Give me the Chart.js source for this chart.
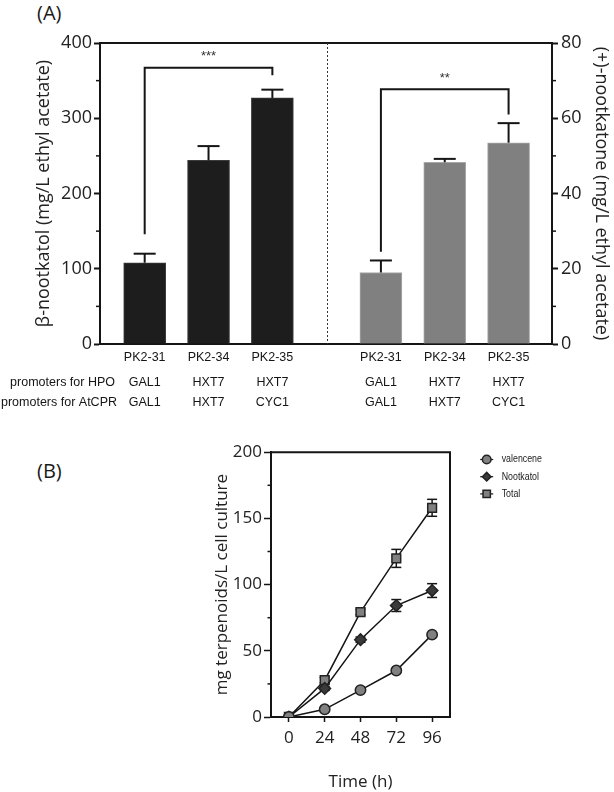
<!DOCTYPE html>
<html><head><meta charset="utf-8">
<script src="https://cdn.jsdelivr.net/npm/chart.js@4.4.1/dist/chart.umd.min.js"></script>
<style>
html,body{margin:0;padding:0;background:#fff;}
body{width:614px;height:792px;position:relative;overflow:hidden;font-family:'Open Sans',sans-serif;}
#wa{position:absolute;left:0;top:0;width:614px;height:425px;}
#wb{position:absolute;left:0;top:440px;width:614px;height:352px;}
.panel{position:absolute;font-size:20px;color:#1a1a1a;line-height:1;font-family:'Open Sans',sans-serif;}
</style></head><body>
<div class="panel" style="left:37px;top:3px">(A)</div>
<div class="panel" style="left:37px;top:461px">(B)</div>
<div id="wa"><canvas id="ca"></canvas></div>
<div id="wb"><canvas id="cb"></canvas></div>
<script>
// ---------- Panel A data ----------
const strains = ['PK2-31', 'PK2-34', 'PK2-35', 'PK2-31', 'PK2-34', 'PK2-35'];
const hpoPromoters = ['GAL1', 'HXT7', 'HXT7', 'GAL1', 'HXT7', 'HXT7'];
const cprPromoters = ['GAL1', 'HXT7', 'CYC1', 'GAL1', 'HXT7', 'CYC1'];
const nootkatolMean = [108, 244, 327];
const nootkatolErr = [12, 19, 11];
const nootkatoneMean = [19, 48.3, 53.5];
const nootkatoneErr = [3.2, 0.9, 5.2];
const leftTicks = [0, 100, 200, 300, 400];
const rightTicks = [0, 20, 40, 60, 80];
// significance brackets: bar indices within group, bracket level, drop ends, label
const sigLeft = {from: 0, to: 2, level: 367, endFrom: 146, endTo: 357, label: '***'};
const sigRight = {from: 0, to: 2, level: 67.7, endFrom: 24.5, endTo: 61, label: '**'};

// ---------- Panel B data ----------
const timeH = [0, 24, 48, 72, 96];
const valencene = [0, 5.8, 20.3, 35.1, 62.2];
const valenceneErr = [0, 0.8, 1, 1.5, 1.5];
const nootkatol = [0, 21.6, 58.4, 84.2, 95.5];
const nootkatolTErr = [0, 1.5, 2, 4.5, 5.2];
const total = [0, 27.8, 79.2, 119.8, 158];
const totalErr = [0, 2, 2, 6.8, 6.4];
const bTicks = [0, 50, 100, 150, 200];

// ---------- layout helpers ----------
const GAP = 1.7; // distance between the two bar groups (in bar slots)
const xLeft = nootkatolMean.map((v, i) => i + 1);
const xRight = nootkatoneMean.map((v, i) => xLeft[xLeft.length - 1] + GAP + i);
const allX = xLeft.concat(xRight);
const dividerX = (xLeft[xLeft.length - 1] + xRight[0]) / 2;

const INK = '#151515';
const NUM = "'Open Sans', sans-serif";
const ARIAL = "'Liberation Sans', Arial, sans-serif";

function ln(ctx, x1, y1, x2, y2) { ctx.beginPath(); ctx.moveTo(x1, y1); ctx.lineTo(x2, y2); ctx.stroke(); }

function minorTicks(ctx, scale, ticks, x0, dir, len) {
  for (let i = 0; i < ticks.length - 1; i++) {
    const v = (ticks[i] + ticks[i + 1]) / 2;
    const p = scale.getPixelForValue(v);
    ln(ctx, x0, p, x0 + dir * len, p);
  }
}

const panelAPlugin = {
  id: 'panelA',
  afterDraw(chart) {
    const ctx = chart.ctx, ca = chart.chartArea;
    const x = chart.scales.x, y = chart.scales.y, y2 = chart.scales.y2;
    ctx.save();
    ctx.strokeStyle = INK; ctx.lineWidth = 2;
    ln(ctx, ca.left - 1, ca.top, ca.right + 1, ca.top);
    // minor ticks
    ctx.lineWidth = 1.5;
    minorTicks(ctx, y, leftTicks, ca.left, -1, 4);
    minorTicks(ctx, y2, rightTicks, ca.right, 1, 4);
    // divider
    ctx.lineWidth = 1; ctx.strokeStyle = '#333'; ctx.setLineDash([2, 2]);
    const dx = Math.round(x.getPixelForValue(dividerX)) + 0.5;
    ln(ctx, dx, ca.top, dx, ca.bottom);
    ctx.setLineDash([]);
    // error bars
    ctx.strokeStyle = INK; ctx.lineWidth = 2;
    const groups = [[xLeft, nootkatolMean, nootkatolErr, y], [xRight, nootkatoneMean, nootkatoneErr, y2]];
    groups.forEach(([xs, m, e, sc]) => {
      xs.forEach((xv, i) => {
        const px = x.getPixelForValue(xv);
        const pb = sc.getPixelForValue(m[i]);
        const pt = sc.getPixelForValue(m[i] + e[i]);
        ln(ctx, px, pb, px, pt);
        ln(ctx, px - 11, pt, px + 11, pt);
      });
    });
    // brackets
    [[sigLeft, xLeft, y], [sigRight, xRight, y2]].forEach(([s, xs, sc]) => {
      const x1 = x.getPixelForValue(xs[s.from]), x2 = x.getPixelForValue(xs[s.to]);
      const yl = sc.getPixelForValue(s.level);
      ctx.beginPath();
      ctx.moveTo(x1, sc.getPixelForValue(s.endFrom));
      ctx.lineTo(x1, yl); ctx.lineTo(x2, yl);
      ctx.lineTo(x2, sc.getPixelForValue(s.endTo));
      ctx.stroke();
      ctx.fillStyle = '#333';
      ctx.font = '13px ' + ARIAL;
      ctx.textAlign = 'center'; ctx.textBaseline = 'alphabetic';
      ctx.fillText(s.label, (x1 + x2) / 2, yl - 7.5);
    });
    // promoter rows
    ctx.fillStyle = INK;
    ctx.font = '12.5px ' + ARIAL;
    ctx.textBaseline = 'middle';
    const r1 = ca.bottom + 39, r2 = ca.bottom + 59;
    ctx.textAlign = 'right';
    ctx.fillText('promoters for HPO', 115, r1);
    ctx.fillText('promoters for AtCPR', 117, r2);
    ctx.textAlign = 'center';
    allX.forEach((xv, i) => {
      const px = x.getPixelForValue(xv);
      ctx.fillText(hpoPromoters[i], px, r1);
      ctx.fillText(cprPromoters[i], px, r2);
    });
    ctx.restore();
  }
};

new Chart(document.getElementById('ca'), {
  type: 'bar',
  data: {
    datasets: [
      {label: 'β-nootkatol', data: nootkatolMean.map((v, i) => ({x: xLeft[i], y: v})), yAxisID: 'y',
        backgroundColor: '#1d1d1d', borderColor: '#3c3c3c', borderWidth: 1, barThickness: 42, grouped: false},
      {label: '(+)-nootkatone', data: nootkatoneMean.map((v, i) => ({x: xRight[i], y: v})), yAxisID: 'y2',
        backgroundColor: '#808080', borderColor: '#a8a8a8', borderWidth: 1, barThickness: 42, grouped: false}
    ]
  },
  options: {
    responsive: true, maintainAspectRatio: false, animation: false,
    layout: {padding: {top: 43, left: 0, right: 0, bottom: 0}},
    plugins: {legend: {display: false}, tooltip: {enabled: false}},
    scales: {
      x: {type: 'linear', min: 0.3, max: 7.38, offset: false,
        grid: {display: false, drawTicks: false},
        border: {display: true, color: INK, width: 2},
        afterBuildTicks: s => { s.ticks = allX.map(v => ({value: v})); },
        afterFit: s => { s.height = 81; },
        ticks: {autoSkip: false, maxRotation: 0, padding: 6, color: INK,
          font: {family: ARIAL, size: 12.5}, callback: (v, i) => strains[i]}},
      y: {type: 'linear', position: 'left', min: 0, max: 400,
        afterBuildTicks: s => { s.ticks = leftTicks.map(v => ({value: v})); },
        afterFit: s => { s.width = 100; },
        grid: {drawOnChartArea: false, tickLength: 6, tickColor: INK, tickWidth: 2},
        border: {color: INK, width: 2},
        ticks: {padding: 2, color: '#222', font: {family: NUM, size: 18}},
        title: {display: true, text: 'β-nootkatol (mg/L ethyl acetate)', color: '#222',
          font: {family: NUM, size: 18}, padding: {top: 33, bottom: 0}}},
      y2: {type: 'linear', position: 'right', min: 0, max: 80,
        afterBuildTicks: s => { s.ticks = rightTicks.map(v => ({value: v})); },
        afterFit: s => { s.width = 62; },
        grid: {drawOnChartArea: false, tickLength: 6, tickColor: INK, tickWidth: 2},
        border: {color: INK, width: 2},
        ticks: {padding: 3, color: '#222', font: {family: NUM, size: 18}},
        title: {display: true, text: '(+)-nootkatone (mg/L ethyl acetate)', color: '#222',
          font: {family: NUM, size: 18}, padding: {top: 2, bottom: 0}}}
    }
  },
  plugins: [panelAPlugin]
});

// ---------- Panel B ----------
const errSets = [valenceneErr, nootkatolTErr, totalErr];

function drawMarker(ctx, ds, x, y, r) {
  ctx.fillStyle = ds.pointBackgroundColor;
  ctx.strokeStyle = ds.pointBorderColor;
  ctx.lineWidth = ds.pointBorderWidth;
  if (Chart.helpers && Chart.helpers.drawPoint) {
    Chart.helpers.drawPoint(ctx, {pointStyle: ds.pointStyle, radius: r, rotation: 0, borderWidth: ds.pointBorderWidth}, x, y);
  }
}

const panelBPlugin = {
  id: 'panelB',
  beforeDatasetsDraw(chart) {
    const ctx = chart.ctx, x = chart.scales.x, y = chart.scales.y;
    ctx.save();
    ctx.strokeStyle = INK; ctx.lineWidth = 1.5;
    chart.data.datasets.forEach((ds, di) => {
      const e = errSets[di];
      ds.data.forEach((pt, i) => {
        if (!e[i]) return;
        const px = x.getPixelForValue(pt.x);
        const p1 = y.getPixelForValue(pt.y + e[i]), p2 = y.getPixelForValue(pt.y - e[i]);
        ln(ctx, px, p1, px, p2);
        ln(ctx, px - 5, p1, px + 5, p1);
        ln(ctx, px - 5, p2, px + 5, p2);
      });
    });
    ctx.restore();
  },
  afterDraw(chart) {
    const ctx = chart.ctx, ca = chart.chartArea, y = chart.scales.y;
    ctx.save();
    ctx.strokeStyle = INK; ctx.lineWidth = 2;
    ctx.beginPath();
    ctx.moveTo(ca.left - 1, ca.top); ctx.lineTo(ca.right, ca.top); ctx.lineTo(ca.right, ca.bottom + 1);
    ctx.stroke();
    ctx.lineWidth = 1.5;
    minorTicks(ctx, y, bTicks, ca.left, -1, 3.5);
    // legend
    ctx.font = '10.5px ' + ARIAL;
    ctx.textBaseline = 'middle'; ctx.textAlign = 'left';
    chart.data.datasets.forEach((ds, i) => {
      const ly = ca.top + 7.3 + i * 17.2;
      const lx = ca.right + 36.7;
      ctx.strokeStyle = INK; ctx.lineWidth = 1.2;
      ln(ctx, lx - 6.5, ly, lx + 6.5, ly);
      drawMarker(ctx, ds, lx, ly, ds.pointStyle === 'rect' ? 5.2 : 4.3);
      ctx.fillStyle = '#1a1a1a';
      const w = ctx.measureText(ds.label).width;
      ctx.fillText(ds.label, ca.right + 51.7, ly, w * 0.84);
    });
    ctx.restore();
  }
};

function series(label, vals, style, r, fill) {
  return {label: label, data: timeH.map((t, i) => ({x: t, y: vals[i]})),
    borderColor: INK, borderWidth: 1.5, fill: false, tension: 0,
    pointStyle: style, pointRadius: r, pointHoverRadius: r,
    pointBackgroundColor: fill, pointBorderColor: '#222', pointBorderWidth: 1.5};
}

new Chart(document.getElementById('cb'), {
  type: 'line',
  data: {
    datasets: [
      series('valencene', valencene, 'circle', 5.2, '#808080'),
      series('Nootkatol', nootkatol, 'rectRot', 5.8, '#3a3a3a'),
      series('Total', total, 'rect', 6.2, '#808080')
    ]
  },
  options: {
    responsive: true, maintainAspectRatio: false, animation: false,
    layout: {padding: {top: 11, left: 200, right: 164, bottom: 0}},
    plugins: {legend: {display: false}, tooltip: {enabled: false}},
    scales: {
      x: {type: 'linear', min: -12, max: 108, offset: false,
        afterBuildTicks: s => { s.ticks = timeH.map(v => ({value: v})); },
        afterFit: s => { s.height = 75; },
        grid: {drawOnChartArea: false, tickLength: 5, tickColor: INK, tickWidth: 1.5},
        border: {color: INK, width: 2},
        ticks: {autoSkip: false, maxRotation: 0, padding: 6, color: '#222', font: {family: NUM, size: 17}},
        title: {display: true, text: 'Time (h)', color: '#222', font: {family: NUM, size: 17}, padding: {top: 0, bottom: 0}}},
      y: {type: 'linear', min: 0, max: 200,
        afterBuildTicks: s => { s.ticks = bTicks.map(v => ({value: v})); },
        afterFit: s => { s.width = 71; },
        grid: {drawOnChartArea: false, tickLength: 7, tickColor: INK, tickWidth: 1.5},
        border: {color: INK, width: 2},
        ticks: {padding: 2, color: '#222', font: {family: NUM, size: 17}},
        title: {display: true, text: 'mg terpenoids/L cell culture', color: '#222',
          font: {family: NUM, size: 17}, padding: {top: 12, bottom: 0}}}
    }
  },
  plugins: [panelBPlugin]
});
</script>
</body></html>
